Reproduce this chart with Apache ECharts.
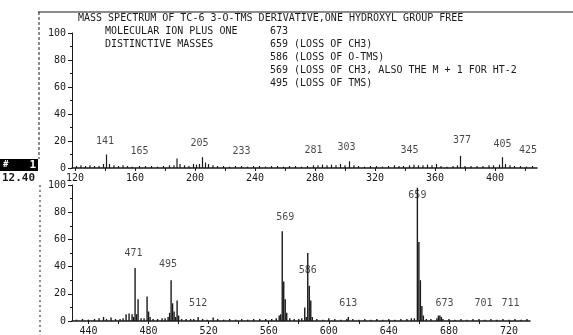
<!DOCTYPE html>
<html>
<head>
<meta charset="utf-8">
<script src="https://cdn.jsdelivr.net/npm/echarts@6/dist/echarts.min.js"></script>
<style>
  html, body { margin: 0; padding: 0; background: #fff; }
  #chart { width: 573px; height: 335px; }
</style>
</head>
<body>
<div id="chart"></div>
<script>
// upper trace, m/z 120 - 430
const upperMass = [121, 124, 127, 130, 133, 136, 139, 141, 143, 146, 149, 152, 155, 158, 163, 167, 171, 175, 179, 183,
  186, 188, 190, 193, 196, 199, 201, 203, 205, 207, 209, 212, 215, 219, 223, 227, 231, 235, 239, 243,
  247, 251, 255, 259, 263, 267, 271, 275, 279, 282, 285, 288, 291, 294, 297, 300, 303, 306, 309, 313,
  317, 321, 325, 329, 333, 336, 339, 343, 346, 349, 352, 355, 358, 361, 364, 368, 372, 375, 377, 380,
  384, 388, 392, 396, 399, 403, 405, 407, 410, 413, 417, 421, 425];
const upperInt = [1.5, 2, 1.5, 2, 1.5, 1.5, 3, 10, 3, 2, 1.5, 2, 1.5, 1, 1.5, 1.5, 1.5, 1, 1.5, 2,
  2, 7, 3, 2, 1.5, 3, 2.5, 3, 8, 4, 3, 2, 1.5, 1.5, 1, 1.5, 1.5, 1, 1.5, 1.5,
  1, 1.5, 1.5, 1, 1.5, 1.5, 1, 1.5, 2, 2, 2.5, 2, 2.5, 2, 3, 2, 5, 2, 1.5, 1,
  1.5, 1.5, 1, 1.5, 2, 1.5, 1.5, 2, 2.5, 2, 2, 2.5, 2, 3, 1.5, 1, 1.5, 2, 9, 1.5,
  1.5, 1.5, 1.5, 2, 2, 2.5, 8, 3, 2, 1.5, 1.5, 1, 1.5];
const upperTicks = [120, 160, 200, 240, 280, 320, 360, 400];
const upperLabels = ['141', '165', '205', '233', '281', '303', '345', '377', '405', '425'];
const upperLabelX = [140, 163, 203, 231, 279, 301, 343, 378, 405, 422];
const upperLabelY = [20, 12.6, 18.5, 12.6, 13.3, 15.5, 13.3, 20.7, 17.8, 13.3];

// lower trace, m/z 430 - 735
const lowerMass = [432, 436, 440, 444, 447, 450, 452, 455, 458, 461, 463, 465, 467, 469, 470, 471, 472, 473, 475, 477,
  479, 480, 481, 483, 486, 489, 491, 493, 494, 495, 496, 497, 498, 499, 500, 502, 505, 508, 510, 513,
  516, 519, 523, 526, 530, 534, 538, 542, 546, 550, 554, 558, 562, 565, 567, 568, 569, 570, 571, 572,
  574, 577, 580, 582, 584, 585, 586, 587, 588, 589, 592, 596, 600, 604, 608, 612, 613, 616, 620, 624,
  628, 632, 636, 640, 644, 648, 652, 655, 657, 659, 660, 661, 662, 663, 665, 668, 672, 673, 674, 675,
  676, 680, 684, 688, 692, 696, 700, 704, 708, 712, 716, 720, 724, 728, 732];
const lowerInt = [1, 1.5, 1, 1.5, 2, 3, 1.5, 2.5, 1.5, 1.5, 2, 5, 5.5, 5, 3, 39, 5, 16, 2, 2,
  18, 7, 3, 1.5, 1.5, 2, 2, 3, 6, 30, 13, 7, 3, 15, 4, 1.5, 1.5, 1.5, 1.5, 3,
  1.5, 1, 2.5, 1.5, 1, 1.5, 1, 1.5, 1, 1.5, 1.5, 1.5, 1.5, 2, 4, 5, 66, 29, 16, 6,
  2, 1.5, 1.5, 2, 10, 3, 50, 26, 15, 3, 1.5, 1, 2, 1.5, 1, 1.5, 3, 1.5, 1, 1.5,
  1, 1.5, 1, 1.5, 1, 1.5, 1.5, 2, 2, 98, 58, 30, 11, 4, 1.5, 1.5, 2, 4, 4, 3,
  1.5, 1.5, 1, 1.5, 1, 1.5, 1.5, 1, 1.5, 1, 1.5, 1, 1.5, 1, 1.5];
const lowerTicks = [440, 480, 520, 560, 600, 640, 680, 720];
const lowerLabels = ['471', '495', '512', '569', '586', '613', '659', '673', '701', '711'];
const lowerLabelX = [470, 493, 513, 571, 586, 613, 659, 677, 703, 721];
const lowerLabelY = [49.6, 41.6, 13.1, 76, 37, 13, 92, 13, 13, 13];

const headerLines = [
  'MASS SPECTRUM OF TC-6 3-O-TMS DERIVATIVE,ONE HYDROXYL GROUP FREE',
  'MOLECULAR ION PLUS ONE',
  'DISTINCTIVE MASSES'
];
const massNotes = [
  '673',
  '659 (LOSS OF CH3)',
  '586 (LOSS OF O-TMS)',
  '569 (LOSS OF CH3, ALSO THE M + 1 FOR HT-2',
  '495 (LOSS OF TMS)'
];

const FONT = 'DejaVu Sans Mono';
const INK = '#1a1a1a';

const chart = echarts.init(document.getElementById('chart'));

function xAxisFor(gridIndex, min, max, ticks) {
  const minor = [];
  for (let v = ticks[0] - 20; v <= max; v += 20) if (v >= min) minor.push(v);
  return {
    type: 'value', gridIndex, min, max,
    axisLine: { lineStyle: { color: INK, width: 1.5 } },
    axisTick: { customValues: minor, length: 3, lineStyle: { color: INK } },
    axisLabel: { customValues: ticks, color: INK, fontFamily: FONT, fontSize: 10, margin: 5 },
    splitLine: { show: false }
  };
}

function yAxisFor(gridIndex) {
  return {
    type: 'value', gridIndex, min: 0, max: 100, interval: 20,
    axisLine: { show: true, lineStyle: { color: INK, width: 1 } },
    axisTick: { show: true, length: 4, lineStyle: { color: INK } },
    minorTick: { show: true, splitNumber: 2, length: 2, lineStyle: { color: INK } },
    axisLabel: { color: INK, fontFamily: FONT, fontSize: 10, margin: 6 },
    splitLine: { show: false }
  };
}

function peaks(mass, inten) {
  return mass.map((m, i) => [m, inten[i]]);
}

function labelPoints(names, xs, ys) {
  return names.map((n, i) => ({ name: n, value: [xs[i], ys[i]] }));
}

const labelStyle = {
  show: true, position: 'inside', formatter: p => p.name,
  color: INK, fontFamily: FONT, fontSize: 10
};

const graphics = [
  // frame top edge and dashed left rules
  { type: 'line', shape: { x1: 38, y1: 12, x2: 573, y2: 12 }, style: { stroke: INK, lineWidth: 1.2 } },
  { type: 'line', shape: { x1: 39, y1: 12, x2: 39, y2: 159 }, style: { stroke: INK, lineWidth: 1, lineDash: [3, 2] } },
  { type: 'line', shape: { x1: 40, y1: 185, x2: 40, y2: 335 }, style: { stroke: INK, lineWidth: 1, lineDash: [2, 3] } },
  // scan marker box
  { type: 'rect', shape: { x: 0, y: 159, width: 38, height: 12 }, style: { fill: '#000' } },
  { type: 'text', x: 3, y: 165, style: { text: '#', fill: '#fff', font: 'bold 9px ' + FONT, verticalAlign: 'middle' } },
  { type: 'text', x: 36, y: 165, style: { text: '1', fill: '#fff', font: 'bold 11px ' + FONT, align: 'right', verticalAlign: 'middle' } },
  { type: 'text', x: 2, y: 178, style: { text: '12.40', fill: INK, font: 'bold 11px ' + FONT, verticalAlign: 'middle' } },
  // header
  { type: 'text', x: 78, y: 18, style: { text: headerLines[0], fill: INK, font: '10px ' + FONT, verticalAlign: 'middle' } },
  { type: 'text', x: 105, y: 31, style: { text: headerLines[1], fill: INK, font: '10px ' + FONT, verticalAlign: 'middle' } },
  { type: 'text', x: 105, y: 44, style: { text: headerLines[2], fill: INK, font: '10px ' + FONT, verticalAlign: 'middle' } }
];
massNotes.forEach((t, i) => {
  graphics.push({ type: 'text', x: 270, y: 31 + i * 13, style: { text: t, fill: INK, font: '10px ' + FONT, verticalAlign: 'middle' } });
});

const option = {
  animation: false,
  backgroundColor: '#fff',
  grid: [
    { left: 72, right: 36, top: 33, height: 135, containLabel: false, outerBoundsMode: 'none' },
    { left: 72, right: 43, top: 185, height: 136, containLabel: false, outerBoundsMode: 'none' }
  ],
  xAxis: [
    xAxisFor(0, 118, 428, upperTicks),
    xAxisFor(1, 429, 734, lowerTicks)
  ],
  yAxis: [yAxisFor(0), yAxisFor(1)],
  series: [
    {
      type: 'bar', xAxisIndex: 0, yAxisIndex: 0, barWidth: 1.2,
      itemStyle: { color: INK }, data: peaks(upperMass, upperInt)
    },
    {
      type: 'bar', xAxisIndex: 1, yAxisIndex: 1, barWidth: 1.4,
      itemStyle: { color: INK }, data: peaks(lowerMass, lowerInt)
    },
    {
      type: 'scatter', xAxisIndex: 0, yAxisIndex: 0, symbolSize: 1,
      itemStyle: { color: 'rgba(0,0,0,0)' },
      label: labelStyle, data: labelPoints(upperLabels, upperLabelX, upperLabelY)
    },
    {
      type: 'scatter', xAxisIndex: 1, yAxisIndex: 1, symbolSize: 1,
      itemStyle: { color: 'rgba(0,0,0,0)' },
      label: labelStyle, data: labelPoints(lowerLabels, lowerLabelX, lowerLabelY)
    }
  ],
  graphic: graphics
};

chart.setOption(option);
</script>
</body>
</html>
